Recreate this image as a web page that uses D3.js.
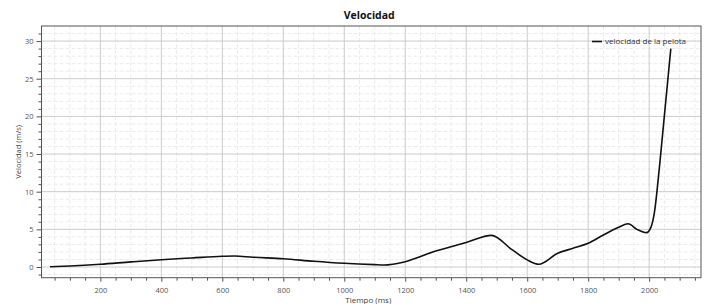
<!DOCTYPE html>
<html><head><meta charset="utf-8">
<script src="https://cdn.jsdelivr.net/npm/d3@7"></script>
<style>
body{margin:0;background:#fff;}
text{font-family:"Open Sans","Noto Sans",sans-serif;}
</style></head>
<body><svg id="c" width="707" height="304"></svg>
<script>
const tiempo = [35,100,200,300,400,500,600,640,700,800,900,1000,1100,1130,1200,1300,1400,1483,1550,1600,1638,1700,1750,1800,1850,1900,1931,1960,1991,2006,2017,2035,2071];
const velocidad = [0.04,0.13,0.36,0.68,0.97,1.2,1.42,1.46,1.3,1.1,0.76,0.49,0.31,0.27,0.71,2.12,3.25,4.2,2.3,0.95,0.36,1.82,2.48,3.15,4.25,5.27,5.75,5.0,4.56,5.3,7.2,13.8,29];
const xTicks = [200,400,600,800,1000,1200,1400,1600,1800,2000];
const yTicks = [0,5,10,15,20,25,30];
const title = "Velocidad", xLabel = "Tiempo (ms)", yLabel = "Velocidad (m/s)", seriesName = "velocidad de la pelota";

const svg = d3.select("#c");
const L=41.5, R=701, T=26, B=277.7;
const x = d3.scaleLinear().domain([7,2170]).range([L,R]);
const y = d3.scaleLinear().domain([-1.42,32]).range([B,T]);

const xMinor = d3.range(50,2170,50).filter(v=>v%200!==0);
const yMinor = d3.range(-1,32,1).filter(v=>v%5!==0);

const g = svg.append("g");
g.selectAll(".vx").data(xMinor).join("line").attr("x1",d=>x(d)).attr("x2",d=>x(d)).attr("y1",T).attr("y2",B)
 .attr("stroke","#ebebeb").attr("stroke-width",1).attr("stroke-dasharray","4,2");
g.selectAll(".hy").data(yMinor).join("line").attr("y1",d=>y(d)).attr("y2",d=>y(d)).attr("x1",L).attr("x2",R)
 .attr("stroke","#ebebeb").attr("stroke-width",1).attr("stroke-dasharray","4,2");
g.selectAll(".VX").data(xTicks).join("line").attr("x1",d=>x(d)).attr("x2",d=>x(d)).attr("y1",T).attr("y2",B)
 .attr("stroke","#cbcbcb").attr("stroke-width",1);
g.selectAll(".HY").data(yTicks).join("line").attr("y1",d=>y(d)).attr("y2",d=>y(d)).attr("x1",L).attr("x2",R)
 .attr("stroke","#cbcbcb").attr("stroke-width",1);

const xAxis = svg.append("g").attr("transform",`translate(0,${B})`)
 .call(d3.axisBottom(x).tickValues(xTicks).tickSize(4).tickPadding(6).tickFormat(d3.format("d")));
const xAxisMinor = svg.append("g").attr("transform",`translate(0,${B})`)
 .call(d3.axisBottom(x).tickValues(xMinor).tickSize(3).tickFormat(""));
const yAxis = svg.append("g").attr("transform",`translate(${L},0)`)
 .call(d3.axisLeft(y).tickValues(yTicks).tickSize(5).tickPadding(3).tickFormat(d3.format("d")));
const yAxisMinor = svg.append("g").attr("transform",`translate(${L},0)`)
 .call(d3.axisLeft(y).tickValues(yMinor).tickSize(3).tickFormat(""));
[xAxis,xAxisMinor,yAxis,yAxisMinor].forEach(a=>{
  a.select(".domain").remove();
  a.selectAll("line").attr("stroke","#555");
  a.selectAll("text").attr("fill","#555").style("font-size","7.5px");
});

svg.append("rect").attr("x",L).attr("y",T).attr("width",R-L).attr("height",B-T)
 .attr("fill","none").attr("stroke","#555").attr("stroke-width",1);

const pts = tiempo.map((t,i)=>[t,velocidad[i]]);
svg.append("path").datum(pts)
 .attr("d",d3.line().x(d=>x(d[0])).y(d=>y(d[1])).curve(d3.curveMonotoneX))
 .attr("fill","none").attr("stroke","#111").attr("stroke-width",1.6);

svg.append("text").attr("x",(L+R)/2-2).attr("y",19).attr("text-anchor","middle")
 .style("font-size","10.5px").style("font-weight","bold").attr("fill","#111").text(title);
svg.append("text").attr("x",(L+R)/2-3).attr("y",303).attr("text-anchor","middle")
 .style("font-size","8px").attr("fill","#444").text(xLabel);
svg.append("text").attr("transform",`translate(20.5,${(T+B)/2}) rotate(-90)`).attr("text-anchor","middle")
 .style("font-size","7.5px").attr("fill","#444").text(yLabel);

svg.append("line").attr("x1",592).attr("x2",602).attr("y1",41.5).attr("y2",41.5).attr("stroke","#111").attr("stroke-width",1.6);
svg.append("text").attr("x",605).attr("y",44).style("font-size","8px").attr("fill","#333").text(seriesName);
</script></body></html>
